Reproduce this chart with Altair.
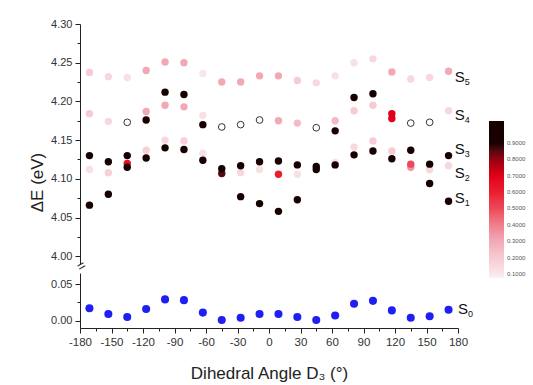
import altair as alt
import pandas as pd

# ---------------- data ----------------
angles = [-171, -153, -135, -117, -99, -81, -63, -45, -27, -9,
          9, 27, 45, 63, 81, 99, 117, 135, 153, 171]

s0_E = [0.017, 0.009, 0.005, 0.016, 0.029, 0.028, 0.011, 0.001, 0.004, 0.009,
        0.009, 0.005, 0.001, 0.007, 0.023, 0.027, 0.014, 0.004, 0.006, 0.015]

s1_E = [4.066, 4.080, 4.115, 4.127, 4.140, 4.138, 4.124, 4.107, 4.077, 4.068,
        4.058, 4.073, 4.112, 4.118, 4.131, 4.136, 4.126, 4.115, 4.094, 4.071]
s1_f = [1.0, 1.0, 1.0, 1.0, 1.0, 1.0, 1.0, 0.85, 1.0, 1.0,
        1.0, 1.0, 1.0, 1.0, 1.0, 1.0, 1.0, 0.35, 1.0, 1.0]

s2_E = [4.112, 4.108, 4.120, 4.137, 4.150, 4.149, 4.133, 4.113, 4.108, 4.112,
        4.106, 4.106, 4.116, 4.121, 4.141, 4.149, 4.136, 4.119, 4.112, 4.117]
s2_f = [0.12, 0.18, 0.65, 0.18, 0.15, 0.18, 0.12, 1.0, 0.15, 0.12,
        0.60, 0.12, 1.0, 0.12, 0.15, 0.20, 0.20, 0.50, 0.15, 0.15]

s3_E = [4.130, 4.122, 4.130, 4.176, 4.195, 4.193, 4.170, 4.167, 4.117, 4.122,
        4.123, 4.118, 4.166, 4.162, 4.188, 4.195, 4.178, 4.137, 4.119, 4.130]
s3_f = [1.0, 1.0, 1.0, 1.0, 0.30, 0.30, 1.0, None, 1.0, 1.0,
        1.0, 1.0, None, 1.0, 0.20, 0.20, 0.70, 1.0, 1.0, 1.0]

s4_E = [4.184, 4.174, 4.173, 4.187, 4.212, 4.209, 4.182, None, 4.170, 4.176,
        4.175, 4.172, None, 4.175, 4.205, 4.210, 4.184, 4.172, 4.173, 4.188]
s4_f = [0.20, 0.15, None, 0.30, 1.0, 1.0, 0.12, None, None, None,
        0.30, 0.25, None, 0.25, 1.0, 1.0, 0.70, None, None, 0.15]

s5_E = [4.2375, 4.232, 4.231, 4.240, 4.251, 4.250, 4.236, 4.225, 4.225, 4.233,
        4.233, 4.227, 4.224, 4.233, 4.250, 4.255, 4.238, 4.229, 4.231, 4.239]
s5_f = [0.20, 0.15, 0.12, 0.30, 0.30, 0.30, 0.10, 0.30, 0.30, 0.30,
        0.30, 0.20, 0.15, 0.12, 0.12, 0.15, 0.30, 0.15, 0.15, 0.30]

# axis ticks
x_major = list(range(-180, 181, 30))
x_minor = list(range(-165, 180, 30))
top_major = [4.00, 4.05, 4.10, 4.15, 4.20, 4.25, 4.30]
top_minor = [4.025, 4.075, 4.125, 4.175, 4.225, 4.275]
bot_major = [0.00, 0.05]
bot_minor = [0.025]

# state labels
lab_sub = ["5", "4", "3", "2", "1"]
lab_E = [4.231, 4.183, 4.139, 4.108, 4.075]
lab_angle = 177
s0_lab_E = 0.016

# colour bar
color_domain = [0.075, 0.1, 0.2, 0.3, 0.4, 0.5, 0.6, 0.7, 0.8, 0.9, 1.035]
color_range = ["#fbf3f4", "#f9e6ea", "#f6cbd3", "#f2a9b6", "#ef7e8c", "#ec4858",
               "#ea1e2e", "#e0001a", "#98000f", "#1a0000", "#000000"]
legend_values = [0.1, 0.2, 0.3, 0.4, 0.5, 0.6, 0.7, 0.8, 0.9]

# ---------------- tables ----------------
rows = []
for E, F in [(s1_E, s1_f), (s2_E, s2_f), (s3_E, s3_f), (s4_E, s4_f), (s5_E, s5_f)]:
    for a, e, f in zip(angles, E, F):
        rows.append({"angle": a, "E": e, "f": f})
df = pd.DataFrame(rows).sort_values("f", na_position="first")
df0 = pd.DataFrame({"angle": angles, "E": s0_E})
dflab = pd.DataFrame({"la": [lab_angle] * len(lab_E), "lE": lab_E, "s": ["S"] * len(lab_E), "sub": lab_sub})
dflab0 = pd.DataFrame({"la": [lab_angle + 3], "lE": [s0_lab_E], "s": ["S"], "sub": ["0"]})

FONT = "Liberation Sans"
W = 378
x_scale = alt.Scale(domain=[-180, 180], nice=False)
top_scale = alt.Scale(domain=[3.99, 4.30], nice=False, zero=False)
bot_scale = alt.Scale(domain=[-0.01, 0.065], nice=False, zero=False)


def minor_axis(vals, orient):
    return alt.Axis(values=vals, labels=False, domain=False, tickSize=3, title=None,
                    orient=orient, grid=False)


top_axis = alt.Axis(
    values=top_major, format=".2f", tickSize=5, labelOverlap=False, labelFlush=False,
    title="ΔE (eV)", titleFontSize=17, titleFontWeight="normal", titlePadding=4,
    titleY=158, orient="left",
)

filled = alt.Chart(df).transform_filter(
    "isValid(datum.f) && isValid(datum.E)"
).mark_circle(size=55, opacity=1).encode(
    x=alt.X("angle:Q", scale=x_scale, axis=None),
    y=alt.Y("E:Q", scale=top_scale, axis=top_axis),
    color=alt.Color("f:Q", scale=alt.Scale(domain=color_domain, range=color_range, clamp=True),
                    legend=alt.Legend(title=None, orient="none", legendX=409, legendY=97,
                                      direction="vertical", gradientLength=157,
                                      gradientThickness=15, values=legend_values,
                                      format=".4f", labelFontSize=6, labelColor="#555",
                                      gradientStrokeWidth=0, labelOffset=3)),
)

top_minor_layer = alt.Chart(df).transform_filter("isValid(datum.E)").mark_point(opacity=0).encode(
    x=alt.X("angle:Q", scale=x_scale, axis=None),
    y=alt.Y("E:Q", scale=top_scale, axis=minor_axis(top_minor, "left")),
)

hollow = alt.Chart(df).transform_filter(
    "!isValid(datum.f) && isValid(datum.E)"
).mark_point(shape="circle", filled=False, size=45, color="#333333", strokeWidth=1, opacity=1).encode(
    x=alt.X("angle:Q", scale=x_scale, axis=None),
    y=alt.Y("E:Q", scale=top_scale, axis=None),
)

lab_s = alt.Chart(dflab).mark_text(align="left", baseline="middle", fontSize=15, font=FONT,
                                   color="#111").encode(
    x=alt.X("la:Q", scale=x_scale, axis=None),
    y=alt.Y("lE:Q", scale=top_scale, axis=None),
    text="s:N",
)
lab_sub_ch = alt.Chart(dflab).mark_text(align="left", baseline="middle", fontSize=9, font=FONT,
                                        color="#111", dx=10, dy=5).encode(
    x=alt.X("la:Q", scale=x_scale, axis=None),
    y=alt.Y("lE:Q", scale=top_scale, axis=None),
    text="sub:N",
)

brk = alt.Chart(pd.DataFrame({"a": [-180], "e": [3.99]})).mark_text(
    text="=", fontSize=14, angle=330, align="center", baseline="middle", font=FONT,
    color="#222", dy=3).encode(
    x=alt.X("a:Q", scale=x_scale, axis=None),
    y=alt.Y("e:Q", scale=top_scale, axis=None),
)

top = alt.layer(filled, top_minor_layer, hollow, lab_s, lab_sub_ch, brk).resolve_axis(
    y="independent").properties(width=W, height=240)

x_axis = alt.Axis(
    values=x_major, tickSize=5, labelOverlap=False, labelFlush=False, orient="bottom",
    labelExpr="'' + datum.value",
    title="Dihedral Angle D₃ (°)", titleFontSize=17, titleFontWeight="normal",
    titlePadding=18, labelFontSize=11.5,
)
bot_axis = alt.Axis(values=bot_major, format=".2f", tickSize=5, labelOverlap=False,
                    labelFlush=False, title=None, orient="left")

blue = alt.Chart(df0).mark_circle(size=65, opacity=1, color="#1f1ff5").encode(
    x=alt.X("angle:Q", scale=x_scale, axis=x_axis),
    y=alt.Y("E:Q", scale=bot_scale, axis=bot_axis),
)
bot_minor_layer = alt.Chart(df0).mark_point(opacity=0).encode(
    x=alt.X("angle:Q", scale=x_scale, axis=minor_axis(x_minor, "bottom")),
    y=alt.Y("E:Q", scale=bot_scale, axis=minor_axis(bot_minor, "left")),
)
lab0 = alt.Chart(dflab0).mark_text(align="left", baseline="middle", fontSize=15, font=FONT,
                                   color="#111").encode(
    x=alt.X("la:Q", scale=x_scale, axis=None),
    y=alt.Y("lE:Q", scale=bot_scale, axis=None),
    text="s:N",
)
lab0_sub = alt.Chart(dflab0).mark_text(align="left", baseline="middle", fontSize=9, font=FONT,
                                       color="#111", dx=10, dy=5).encode(
    x=alt.X("la:Q", scale=x_scale, axis=None),
    y=alt.Y("lE:Q", scale=bot_scale, axis=None),
    text="sub:N",
)
bottom = alt.layer(blue, bot_minor_layer, lab0, lab0_sub).resolve_axis(
    x="independent", y="independent").properties(width=W, height=55)

chart = alt.vconcat(top, bottom, spacing=9, bounds="flush").properties(
    padding={"left": 28, "top": 18, "right": 0, "bottom": 0},
    background="white",
).configure_axis(
    labelFont=FONT, titleFont=FONT, labelFontSize=11, labelColor="#333",
    titleColor="#222", domainColor="#222", tickColor="#222", grid=False,
    labelPadding=3, labelOverlap=False,
).configure_view(stroke=None).configure_legend(labelFont=FONT)

chart.save("out.html", embed_options={"renderer": "svg", "actions": False})
